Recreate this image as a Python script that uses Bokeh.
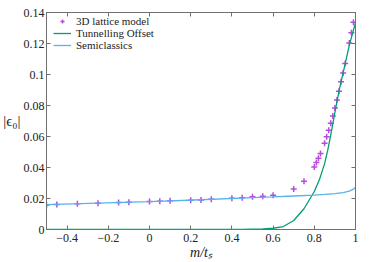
from bokeh.plotting import figure
from bokeh.models import FixedTicker, LinearAxis, Legend, LegendItem, Range1d
from bokeh.embed import file_html
from bokeh.resources import INLINE

# 3D lattice model data points
m_lattice = [-0.5, -0.45, -0.35, -0.25, -0.15, -0.1, 0.0, 0.05, 0.1, 0.2, 0.25, 0.3,
             0.4, 0.45, 0.5, 0.55, 0.6, 0.7, 0.75, 0.8, 0.81, 0.82, 0.83, 0.85, 0.86,
             0.87, 0.88, 0.89, 0.9, 0.91, 0.92, 0.93, 0.94, 0.95, 0.97, 0.98, 0.99]
eps_lattice = [0.0158, 0.0161, 0.0166, 0.0170, 0.0175, 0.0176, 0.0181, 0.0182, 0.0185,
               0.0188, 0.0191, 0.0195, 0.0202, 0.0205, 0.0211, 0.0215, 0.0221, 0.0261,
               0.0311, 0.0404, 0.0432, 0.0460, 0.0490, 0.0557, 0.0598, 0.0640, 0.0685,
               0.0732, 0.0784, 0.0836, 0.0892, 0.0953, 0.1009, 0.1071, 0.1203, 0.1270,
               0.1337]

# Tunnelling offset curve (sampled)
m_tunnel = [-0.5, 0.3, 0.45, 0.55, 0.6, 0.65, 0.7, 0.75, 0.8, 0.825, 0.85, 0.865,
            0.88, 0.9, 0.92, 0.95, 0.97, 1.0]
eps_tunnel = [0.0, 0.0, 0.0001, 0.0004, 0.0008, 0.0019, 0.0058, 0.0134, 0.0245, 0.0322,
              0.0425, 0.0510, 0.0610, 0.0755, 0.0894, 0.1070, 0.1190, 0.1335]

# Semiclassics curve (sampled)
m_semi = [-0.5, -0.25, 0.0, 0.25, 0.5, 0.6, 0.7, 0.8, 0.85, 0.9, 0.94, 0.97, 0.99, 1.0]
eps_semi = [0.0160, 0.0170, 0.0180, 0.0192, 0.0205, 0.0210, 0.0216, 0.0222, 0.0226,
            0.0231, 0.0238, 0.0248, 0.0260, 0.0272]

x_ticks = [-0.4, -0.2, 0.0, 0.2, 0.4, 0.6, 0.8, 1.0]
x_tick_labels = ["\u22120.4", "\u22120.2", "0", "0.2", "0.4", "0.6", "0.8", "1"]
y_ticks = [0.0, 0.02, 0.04, 0.06, 0.08, 0.1, 0.12, 0.14]
y_tick_labels = ["0", "0.02", "0.04", "0.06", "0.08", "0.1", "0.12", "0.14"]

series_labels = ["3D lattice model", "Tunnelling Offset", "Semiclassics"]
colors = ["#9400d3", "#009e73", "#56b4e9"]

FONT = "'Liberation Serif', serif"
AX = "#707070"

p = figure(width=370, height=262, x_range=Range1d(-0.5, 1.0), y_range=Range1d(0.0, 0.14),
           output_backend="svg", toolbar_location=None,
           min_border_left=10, min_border_right=15, min_border_top=12, min_border_bottom=4)
p.xgrid.visible = False
p.ygrid.visible = False
p.outline_line_color = AX
p.outline_line_width = 1
p.background_fill_color = "white"
p.border_fill_color = "white"

r1 = p.scatter(m_lattice, eps_lattice, marker="cross", size=6, line_width=1.5,
               line_color=colors[0], alpha=0.7)
r2 = p.line(m_tunnel, eps_tunnel, line_color=colors[1], line_width=1.3)
r3 = p.line(m_semi, eps_semi, line_color=colors[2], line_width=1.3)

def style_axis(ax, ticks, labels, show_labels=True):
    ax.ticker = FixedTicker(ticks=ticks)
    ax.major_tick_in = 4
    ax.major_tick_out = 0
    ax.major_tick_line_color = AX
    ax.minor_tick_line_color = None
    ax.axis_line_color = AX
    if show_labels:
        ax.major_label_overrides = {t: l for t, l in zip(ticks, labels)}
        ax.major_label_text_font = FONT
        ax.major_label_text_color = "#222222"
        ax.major_label_text_font_size = "12px"
        ax.major_label_standoff = 4
    else:
        ax.major_label_text_font_size = "0px"
        ax.major_label_text_color = None
        ax.major_label_standoff = 0

xaxis = p.xaxis[0]
yaxis = p.yaxis[0]
style_axis(xaxis, x_ticks, x_tick_labels)
style_axis(yaxis, y_ticks, y_tick_labels)
xaxis.major_label_standoff = 4
yaxis.major_label_standoff = 2

top_axis = LinearAxis()
style_axis(top_axis, x_ticks, x_tick_labels, show_labels=False)
p.add_layout(top_axis, "above")
right_axis = LinearAxis()
style_axis(right_axis, y_ticks, y_tick_labels, show_labels=False)
p.add_layout(right_axis, "right")

xaxis.axis_label = "m/t\u209b"
xaxis.axis_label_text_font = FONT
xaxis.axis_label_text_font_style = "italic"
xaxis.axis_label_text_font_size = "14px"
xaxis.axis_label_standoff = 0
xaxis.axis_label_text_color = "#222222"

yaxis.axis_label = "|\u03f5\u2080|"
yaxis.axis_label_text_font = FONT
yaxis.axis_label_text_font_style = "normal"
yaxis.axis_label_text_font_size = "15px"
yaxis.axis_label_standoff = 0
yaxis.axis_label_text_color = "#222222"
try:
    yaxis.axis_label_orientation = "horizontal"
except Exception:
    pass

legend = Legend(items=[LegendItem(label=series_labels[0], renderers=[r1]),
                       LegendItem(label=series_labels[1], renderers=[r2]),
                       LegendItem(label=series_labels[2], renderers=[r3])],
                location=(7, 178))
legend.background_fill_alpha = 0
legend.border_line_color = None
legend.label_text_font = FONT
legend.label_text_font_size = "11px"
legend.label_text_line_height = 0.9
legend.label_text_color = "#222222"
legend.glyph_width = 18
legend.glyph_height = 10
legend.label_height = 10
legend.spacing = 0
legend.padding = 2
legend.margin = 0
p.add_layout(legend)

open("out.html", "w").write(file_html(p, INLINE))
